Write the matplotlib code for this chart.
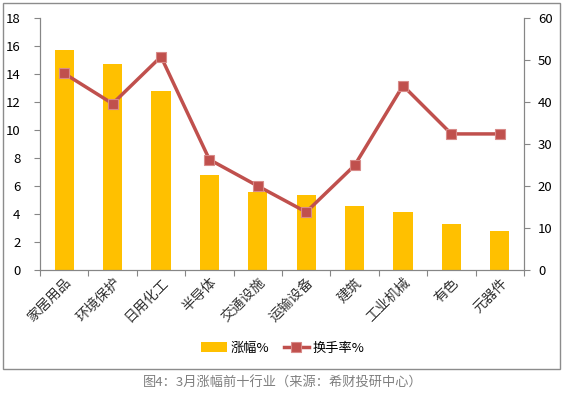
import matplotlib
matplotlib.use("Agg")
import matplotlib.pyplot as plt
from matplotlib.patches import Rectangle
import numpy as np

plt.rcParams['font.family'] = ['Noto Sans CJK SC', 'DejaVu Sans']

categories = ['家居用品', '环境保护', '日用化工', '半导体', '交通设施', '运输设备', '建筑', '工业机械', '有色', '元器件']
rise = [15.7, 14.75, 12.8, 6.78, 5.58, 5.35, 4.55, 4.15, 3.27, 2.8]
turnover = [46.8, 39.6, 50.8, 26.3, 20.0, 13.8, 24.9, 43.9, 32.4, 32.4]

W, H = 563, 393
fig = plt.figure(figsize=(W/100, H/100), dpi=100)
ax = fig.add_axes([40/W, 1-270/H, 484/W, 252/H])
ax2 = ax.twinx()

x = np.arange(len(categories))
bars = ax.bar(x, rise, width=0.4, color='#FFC000', label='涨幅%', zorder=2)
line, = ax2.plot(x, turnover, color='#C0504D', lw=2.5, marker='s', markersize=7,
                 markerfacecolor='#C0504D', markeredgecolor='#D88A88', markeredgewidth=0.8,
                 label='换手率%', zorder=3)

ax.set_xlim(-0.5, len(categories)-0.5)
ax.set_ylim(0, 18)
ax.set_yticks(np.arange(0, 19, 2))
ax2.set_ylim(0, 60)
ax2.set_yticks(np.arange(0, 61, 10))

spine_c = '#868686'
for a in (ax, ax2):
    a.spines['top'].set_visible(False)
    for s in ('left', 'right', 'bottom'):
        a.spines[s].set_color(spine_c)
    a.tick_params(axis='y', colors=spine_c, labelcolor='black', labelsize=9.5, length=4, width=0.8)
ax.tick_params(axis='y', pad=10)
ax2.tick_params(axis='y', pad=6)

ax.set_xticks(x)
ax.set_xticklabels(categories, rotation=45, ha='right', rotation_mode='anchor', fontsize=10, color='#333333')
ax.tick_params(axis='x', length=0, pad=4)
ax.set_xticks(np.arange(-0.5, len(categories), 1), minor=True)
ax.tick_params(axis='x', which='minor', length=4, color=spine_c, width=0.8)

handles = [bars, line]
fig.legend(handles, ['涨幅%', '换手率%'], loc='center', bbox_to_anchor=(283/W, 1-348/H),
           ncol=2, frameon=False, fontsize=9.5, handlelength=1.9, columnspacing=1.1, handletextpad=0.3)

fig.patches.append(Rectangle((3/W, 1-369/H), 557/W, 366/H, transform=fig.transFigure,
                             fill=False, edgecolor='#8C8C8C', lw=1))
fig.text(283/W, 1-383/H, '图4：3月涨幅前十行业（来源：希财投研中心）', ha='center', va='center',
         fontsize=9.5, color='#7F7F7F')

fig.savefig('out.png', dpi=100)
